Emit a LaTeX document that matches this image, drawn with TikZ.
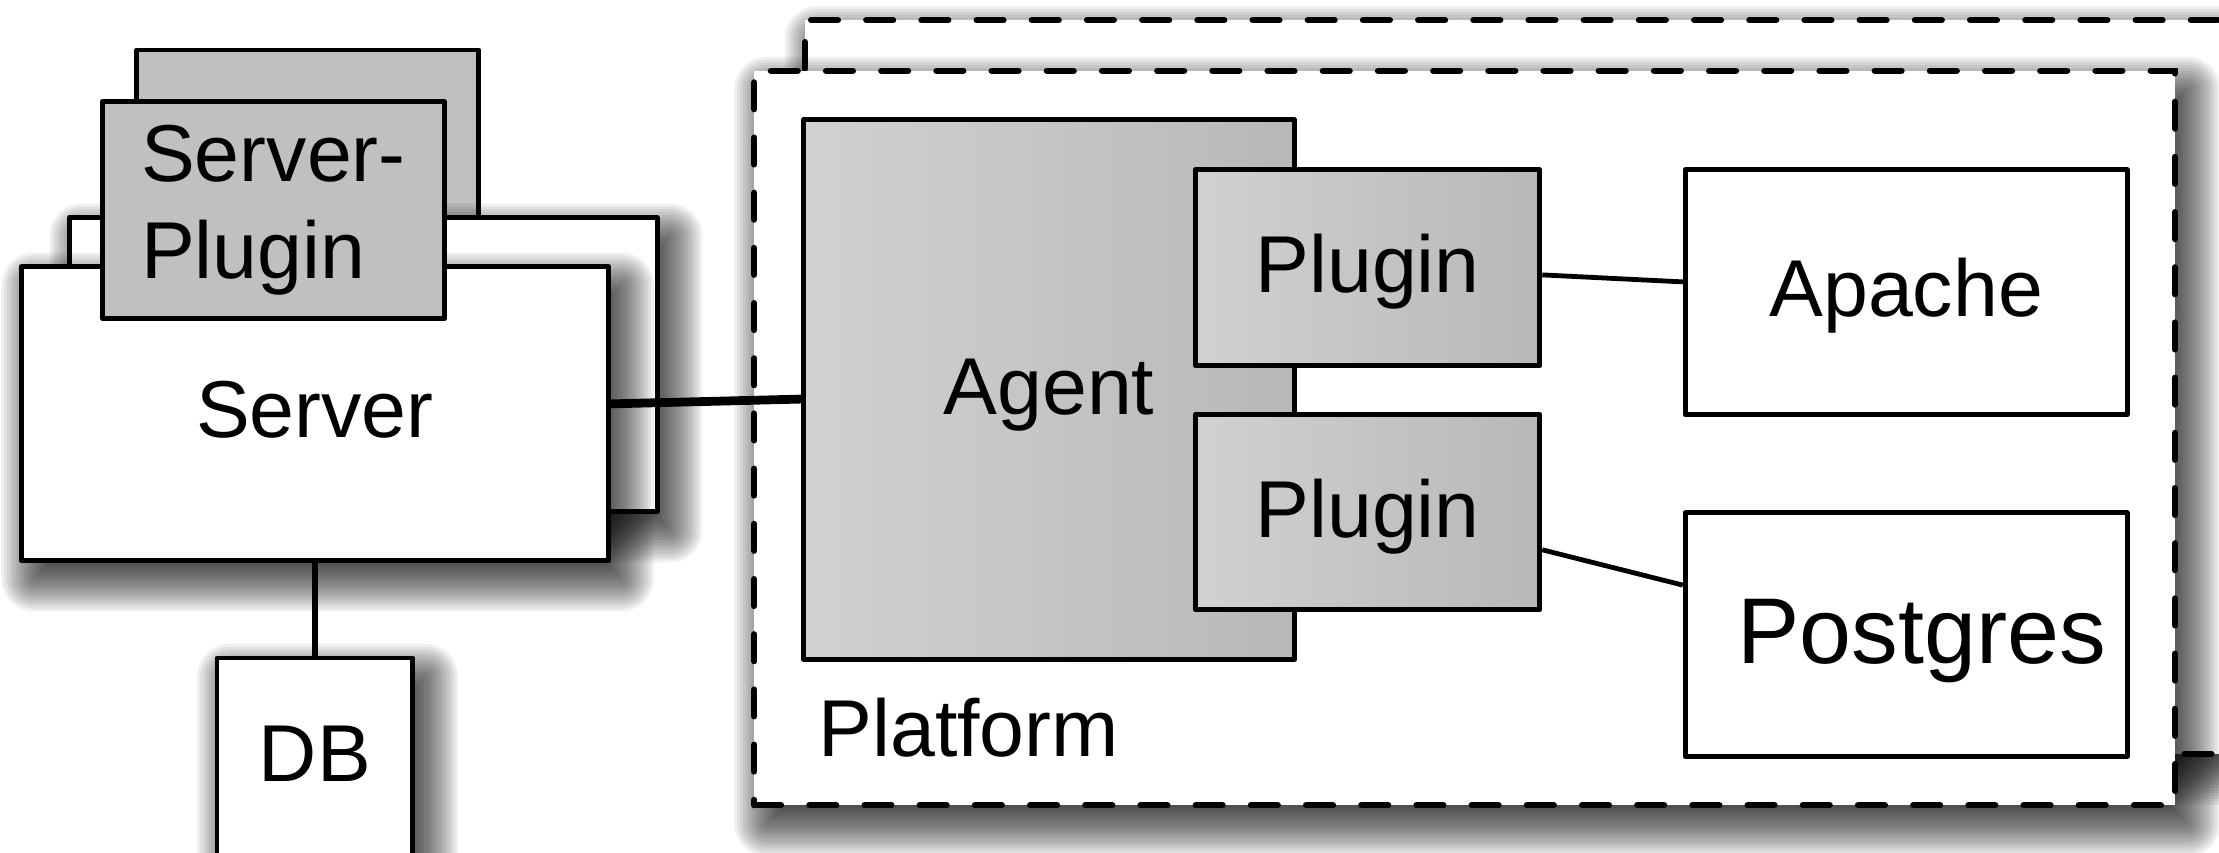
\documentclass[tikz,border=0pt]{standalone}
\usepackage{fontspec}
\setmainfont{Liberation Sans}
\usetikzlibrary{calc}
% soft drop shadow made of stacked translucent rectangles (corners in picture units)
\newcommand\mkshadow[4]{%
  \foreach \i in {0,...,23}{%
    \pgfmathsetmacro\gg{-24+(\i+0.5)*2}%
    \pgfmathsetmacro\rc{max(\gg,0.2)*0.5}%
    \fill[black, fill opacity=0.058, rounded corners=\rc pt]
      ({#1+9-\gg},{#2+13-\gg}) rectangle ({#3+9+\gg},{#4+13+\gg});
  }}
\begin{document}
\begin{tikzpicture}[x=0.5pt,y=-0.5pt,
  box/.style={draw=black, line width=1.7pt, line join=round, rectangle, inner sep=0pt,
    font=\fontsize{28.5}{34}\selectfont, text height=20.4pt, text depth=3pt},
  whitebox/.style={box, fill=white},
  graybox/.style={box, fill={rgb,255:red,192;green,192;blue,192}},
  gradbox/.style={box, left color={rgb,255:red,209;green,209;blue,209}, right color={rgb,255:red,184;green,184;blue,184}},
  dashbox/.style={draw=black, line width=2.2pt, line cap=round, dash pattern=on 9.5pt off 10pt, fill=white, rectangle, inner sep=0pt},
  link/.style={draw=black, line width=1.7pt},
  thicklink/.style={draw=black, line width=3.1pt}
]
\fill[white] (0,0) rectangle (1568,602.7);
\useasboundingbox (0,0) rectangle (1568,602.7);

% platform group
\mkshadow{568.6}{14.2}{1588.6}{532.7}
\node[dashbox, minimum width=510pt, minimum height=259.25pt] (backplat) at (1078.6,273.45) {};
\mkshadow{532.9}{50}{1536.8}{569}
\node[dashbox, minimum width=501.95pt, minimum height=259.5pt] (platform) at (1034.85,309.5) {};
\node[anchor=base west, inner sep=0pt, font=\fontsize{28.5}{34}\selectfont] (platlabel) at (578,534.6) {Platform};

\node[gradbox, minimum width=173.35pt, minimum height=190.7pt, text depth=2.9pt] (agent) at (741.25,275.3) {Agent};
\node[gradbox, minimum width=121.75pt, minimum height=69.25pt, text depth=2.7pt] (plugin1) at (966.35,189.25) {Plugin};
\node[gradbox, minimum width=121.75pt, minimum height=68.9pt, text depth=2.4pt] (plugin2) at (966.35,361.9) {Plugin};
\node[whitebox, minimum width=156.15pt, minimum height=86.5pt, text height=21pt, text depth=4pt] (apache) at (1346.95,206.5) {Apache};
\node[whitebox, minimum width=156.15pt, minimum height=86.15pt, font=\fontsize{33}{38}\selectfont, text height=23.6pt, text depth=3pt] (postgres) at (1346.95,448.45) {\hspace*{11pt}Postgres};

\draw[link] ([yshift=-2.5pt]plugin1.east) -- ([yshift=3.65pt]apache.west);
\draw[link] ([yshift=-13.3pt]plugin2.east) -- ([yshift=17.5pt]postgres.west);

% server group
\node[graybox, minimum width=120.8pt, minimum height=82.3pt] (backsp) at (217.5,117.7) {};
\mkshadow{49}{153.8}{464.3}{361.5}
\node[whitebox, minimum width=207.65pt, minimum height=103.85pt] (backserver) at (256.7,257.7) {};
\mkshadow{15}{188.5}{430}{396}
\node[whitebox, minimum width=207.5pt, minimum height=103.75pt, text depth=3.7pt] (server) at (222.5,292.3) {Server};
\node[graybox, minimum width=120.85pt, minimum height=76.5pt, align=left, text height=, text depth=] (sp) at (193.2,148.5) {Server-\\Plugin};
\mkshadow{153.3}{465}{291.7}{640}
\node[whitebox, minimum width=69.2pt, minimum height=87.5pt, text depth=20.9pt] (db) at (222.5,552.5) {DB};

\draw[link, line width=2pt] (server.south) -- (db.north);
\draw[thicklink] ([yshift=3.45pt]server.east) -- ([yshift=-3.35pt]agent.west);
\end{tikzpicture}
\end{document}
